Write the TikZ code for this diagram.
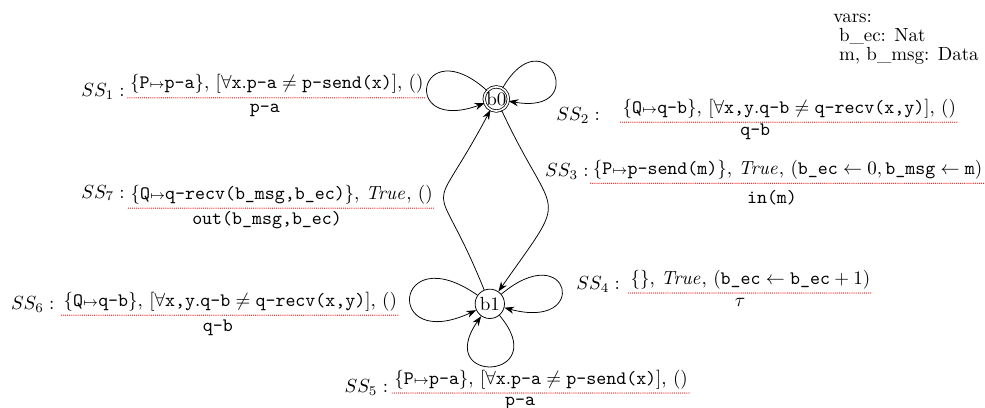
\documentclass[tikz,border=0pt]{standalone}
\usepackage{amsmath,amssymb}
\usetikzlibrary{arrows.meta,positioning}

\begin{document}
\begin{tikzpicture}[
  state/.style={circle,draw,inner sep=1pt,minimum size=5mm},
  final/.style={circle,draw,double,double distance=0.9pt,inner sep=0pt,minimum size=4.2mm},
  trans/.style={-{Stealth[length=1.8mm,width=1.3mm]}},
  loopy/.style={trans,min distance=1.6cm},
  guard/.style={anchor=south,inner xsep=1pt,inner ysep=2pt},
  act/.style={inner sep=1pt},
  ssname/.style={anchor=east,inner sep=1pt},
  sep/.style={red,line width=0.65pt,line cap=round,dash pattern=on 0pt off 1.1pt}
]
  \useasboundingbox (0,0) rectangle (18.22,7.53);

  % states
  \node[final] (b0) at (9.18,5.70) {b0};
  \node[state] (b1) at (9.06,1.91) {b1};

  % transitions
  \draw[loopy,min distance=1.7cm] (b0) to[out=138,in=200] (b0);
  \draw[loopy,min distance=1.57cm] (b0) to[out=60,in=-10] (b0);
  \draw[trans] (b0) to[out=-65,in=55,looseness=1.8] (b1);
  \draw[trans] (b1) to[out=112,in=242,looseness=1.95] (b0);
  \draw[loopy,min distance=1.9cm] (b1) to[out=145,in=205] (b1);
  \draw[loopy,min distance=1.66cm] (b1) to[out=40,in=-15] (b1);
  \draw[loopy,min distance=1.57cm] (b1) to[out=-50,in=-125] (b1);

  % labels
  \node[ssname] (n1) at (2.35,5.83) {$SS_1:$};
  \node[guard] (g1) at (5.12,5.72) {$\{\texttt{P}{\scriptstyle\mapsto}\texttt{p-a}\}$, $[\forall\texttt{x}.\texttt{p-a}\neq\texttt{p-send(x)}]$, $()$};
  \draw[sep] (g1.south west) -- (g1.south east);
  \node[act] (a1) at (4.90,5.49) {\texttt{p-a}};

  \node[ssname] (n2) at (11.14,5.40) {$SS_2:$};
  \node[guard] (g2) at (14.60,5.27) {$\{\texttt{Q}{\scriptstyle\mapsto}\texttt{q-b}\}$, $[\forall\texttt{x,y}.\texttt{q-b}\neq\texttt{q-recv(x,y)}]$, $()$};
  \draw[sep] (g2.south west) -- (g2.south east);
  \node[act] (a2) at (13.97,5.09) {\texttt{q-b}};

  \node[ssname] (n3) at (10.93,4.35) {$SS_3:$};
  \node[guard,anchor=south east] (g3) at (18.21,4.14) {$\{\texttt{P}{\scriptstyle\mapsto}\texttt{p-send(m)}\}$, $\mathit{True}$, $(\texttt{b\_ec}\leftarrow 0,\texttt{b\_msg}\leftarrow\texttt{m})$};
  \draw[sep] (g3.south west) -- (g3.south east);
  \node[act] (a3) at (14.28,3.87) {\texttt{in(m)}};

  \node[ssname] (n7) at (2.35,3.96) {$SS_7:$};
  \node[guard] (g7) at (5.21,3.68) {$\{\texttt{Q}{\scriptstyle\mapsto}\texttt{q-recv(b\_msg,b\_ec)}\}$, $\mathit{True}$, $()$};
  \draw[sep] (g7.south west) -- (g7.south east);
  \node[act] (a7) at (4.94,3.46) {\texttt{out(b\_msg,b\_ec)}};

  \node[ssname] (n6) at (1.05,1.89) {$SS_6:$};
  \node[guard] (g6) at (4.26,1.70) {$\{\texttt{Q}{\scriptstyle\mapsto}\texttt{q-b}\}$, $[\forall\texttt{x,y}.\texttt{q-b}\neq\texttt{q-recv(x,y)}]$, $()$};
  \draw[sep] (g6.south west) -- (g6.south east);
  \node[act] (a6) at (4.03,1.46) {\texttt{q-b}};

  \node[ssname] (n4) at (11.51,2.26) {$SS_4:$};
  \node[guard] (g4) at (13.88,2.11) {$\{\}$, $\mathit{True}$, $(\texttt{b\_ec}\leftarrow\texttt{b\_ec}+1)$};
  \draw[sep] (g4.south west) -- (g4.south east);
  \node[act] (a4) at (13.69,1.94) {$\tau$};

  \node[ssname] (n5) at (7.22,0.37) {$SS_5:$};
  \node[guard] (g5) at (10.01,0.26) {$\{\texttt{P}{\scriptstyle\mapsto}\texttt{p-a}\}$, $[\forall\texttt{x}.\texttt{p-a}\neq\texttt{p-send(x)}]$, $()$};
  \draw[sep] (g5.south west) -- (g5.south east);
  \node[act] (a5) at (9.62,0.07) {\texttt{p-a}};

  \node[align=left,anchor=north west] (vars) at (15.29,7.40)
    {vars:\\[-2pt] \hspace*{3pt}b\_ec: Nat\\[-2pt] \hspace*{3pt}m, b\_msg: Data};
\end{tikzpicture}
\end{document}
